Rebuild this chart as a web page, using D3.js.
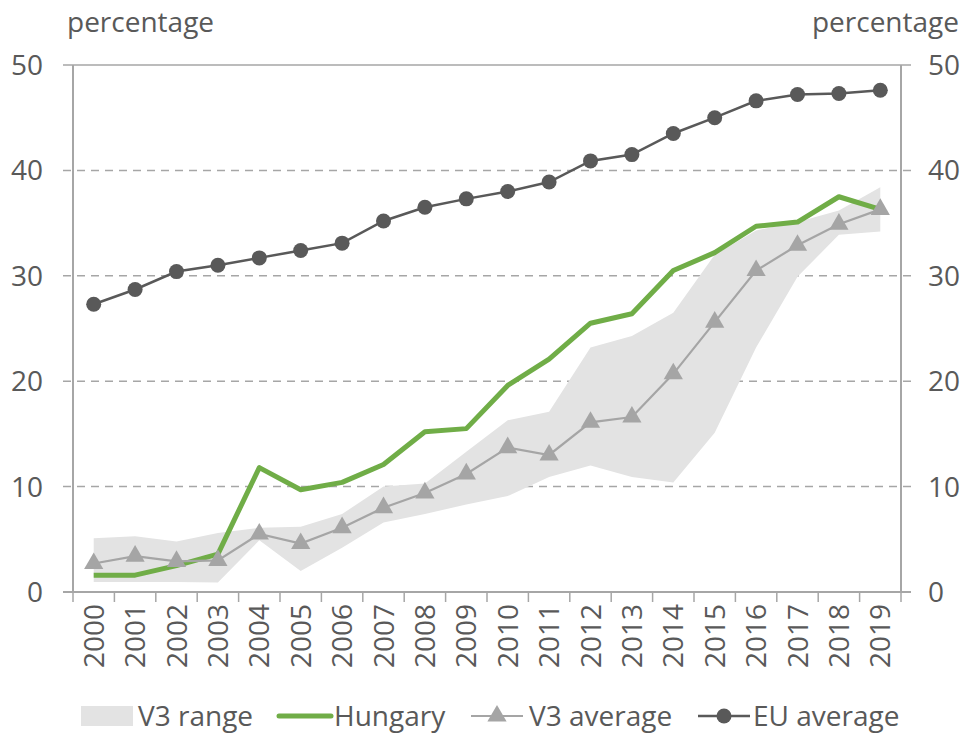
<!DOCTYPE html>
<html>
<head>
<meta charset="utf-8">
<script src="https://cdn.jsdelivr.net/npm/d3@7"></script>
<style>
  body { margin: 0; background: #fff; }
  text { font-family: "Open Sans", sans-serif; fill: #595959; }
</style>
</head>
<body>
<script>
const years = ["2000","2001","2002","2003","2004","2005","2006","2007","2008","2009",
               "2010","2011","2012","2013","2014","2015","2016","2017","2018","2019"];
const hungary = [1.6, 1.6, 2.5, 3.6, 11.8, 9.7, 10.4, 12.1, 15.2, 15.5,
                 19.6, 22.1, 25.5, 26.4, 30.5, 32.2, 34.7, 35.1, 37.5, 36.3];
const v3Avg = [2.7, 3.4, 2.9, 3.0, 5.5, 4.6, 6.1, 8.0, 9.4, 11.2,
               13.7, 13.0, 16.1, 16.6, 20.7, 25.6, 30.5, 32.9, 34.9, 36.3];
const v3Min = [0.95, 0.95, 0.95, 0.9, 4.9, 2.0, 4.2, 6.6, 7.4, 8.3,
               9.1, 10.9, 12.0, 10.9, 10.4, 15.1, 23.2, 29.9, 33.9, 34.2];
const v3Max = [5.1, 5.3, 4.8, 5.6, 6.1, 6.2, 7.4, 10.0, 10.3, 13.3,
               16.3, 17.1, 23.2, 24.3, 26.5, 32.0, 34.3, 35.1, 36.2, 38.4];
const euAvg = [27.3, 28.7, 30.4, 31.0, 31.7, 32.4, 33.1, 35.2, 36.5, 37.3,
               38.0, 38.9, 40.9, 41.5, 43.5, 45.0, 46.6, 47.2, 47.3, 47.6];
const yTicks = [0, 10, 20, 30, 40, 50];

const width = 966, height = 733;
const plotL = 73, plotR = 901, plotT = 65, plotB = 592;
const fs = 28;

const svg = d3.select("body").append("svg")
    .attr("width", width)
    .attr("height", height);

const x = d3.scaleBand().domain(years).range([plotL, plotR]).padding(0);
const y = d3.scaleLinear().domain([0, 50]).range([plotB, plotT]);
const cx = d => x(d) + x.bandwidth() / 2;

// grid
svg.append("g").selectAll("line")
    .data(yTicks.filter(t => t > 0))
    .enter().append("line")
    .attr("x1", plotL - 10).attr("x2", plotR + 10)
    .attr("y1", d => y(d)).attr("y2", d => y(d))
    .attr("stroke", "#a6a6a6")
    .attr("stroke-width", 1.5)
    .attr("stroke-dasharray", d => d === 50 ? null : "8,6");

// range area
const area = d3.area()
    .x((d, i) => cx(years[i]))
    .y0((d, i) => y(v3Min[i]))
    .y1((d, i) => y(v3Max[i]));
svg.append("path")
    .datum(years)
    .attr("d", area)
    .attr("fill", "#e3e3e3");

// axes
svg.append("line")
    .attr("x1", plotL).attr("x2", plotL).attr("y1", plotT).attr("y2", plotB)
    .attr("stroke", "#a6a6a6").attr("stroke-width", 2);
svg.append("line")
    .attr("x1", plotR).attr("x2", plotR).attr("y1", plotT).attr("y2", plotB)
    .attr("stroke", "#a6a6a6").attr("stroke-width", 2);
svg.append("line")
    .attr("x1", plotL - 10).attr("x2", plotR + 10).attr("y1", plotB).attr("y2", plotB)
    .attr("stroke", "#a6a6a6").attr("stroke-width", 2);

const bounds = years.map(d => x(d)).concat([plotR]);
svg.append("g").selectAll("line")
    .data(bounds)
    .enter().append("line")
    .attr("x1", d => d).attr("x2", d => d)
    .attr("y1", plotB).attr("y2", plotB + 10)
    .attr("stroke", "#a6a6a6").attr("stroke-width", 1.5);

// y labels
svg.append("g").selectAll("text")
    .data(yTicks)
    .enter().append("text")
    .attr("x", 43).attr("y", d => y(d))
    .attr("dy", "0.36em")
    .attr("text-anchor", "end")
    .attr("font-size", fs)
    .text(d => d);
svg.append("g").selectAll("text")
    .data(yTicks)
    .enter().append("text")
    .attr("x", 928).attr("y", d => y(d))
    .attr("dy", "0.36em")
    .attr("font-size", fs)
    .text(d => d);

svg.append("text").attr("x", 67).attr("y", 32).attr("font-size", fs).text("percentage");
svg.append("text").attr("x", 959).attr("y", 32).attr("text-anchor", "end").attr("font-size", fs).text("percentage");

// x labels
svg.append("g").selectAll("text")
    .data(years)
    .enter().append("text")
    .attr("transform", d => `translate(${cx(d)},${plotB + 12}) rotate(-90)`)
    .attr("text-anchor", "end")
    .attr("dy", "0.36em")
    .attr("font-size", fs)
    .text(d => d);

const line = d3.line();

// Hungary
svg.append("path")
    .datum(years.map((d, i) => [cx(d), y(hungary[i])]))
    .attr("d", line)
    .attr("fill", "none")
    .attr("stroke", "#70ad47")
    .attr("stroke-width", 5)
    .attr("stroke-linejoin", "round");

// V3 average
svg.append("path")
    .datum(years.map((d, i) => [cx(d), y(v3Avg[i])]))
    .attr("d", line)
    .attr("fill", "none")
    .attr("stroke", "#a5a5a5")
    .attr("stroke-width", 2.2);
const tri = d3.symbol().type(d3.symbolTriangle).size(160);
svg.append("g").selectAll("path")
    .data(years)
    .enter().append("path")
    .attr("d", tri)
    .attr("transform", (d, i) => `translate(${cx(d)},${y(v3Avg[i])})`)
    .attr("fill", "#a5a5a5");

// EU average
svg.append("path")
    .datum(years.map((d, i) => [cx(d), y(euAvg[i])]))
    .attr("d", line)
    .attr("fill", "none")
    .attr("stroke", "#595959")
    .attr("stroke-width", 2.5);
svg.append("g").selectAll("circle")
    .data(years)
    .enter().append("circle")
    .attr("cx", d => cx(d))
    .attr("cy", (d, i) => y(euAvg[i]))
    .attr("r", 7.5)
    .attr("fill", "#595959");

// legend
const ly = 716;
svg.append("rect").attr("x", 81).attr("y", ly - 10).attr("width", 52).attr("height", 20).attr("fill", "#e3e3e3");
svg.append("text").attr("x", 138).attr("y", ly).attr("dy", "0.36em").attr("font-size", fs).text("V3 range");

svg.append("line").attr("x1", 279).attr("x2", 331).attr("y1", ly).attr("y2", ly)
    .attr("stroke", "#70ad47").attr("stroke-width", 5).attr("stroke-linecap", "round");
svg.append("text").attr("x", 334).attr("y", ly).attr("dy", "0.36em").attr("font-size", fs).text("Hungary");

svg.append("line").attr("x1", 471).attr("x2", 523).attr("y1", ly).attr("y2", ly)
    .attr("stroke", "#a5a5a5").attr("stroke-width", 2.2);
svg.append("path").attr("d", tri).attr("transform", `translate(497,${ly})`).attr("fill", "#a5a5a5");
svg.append("text").attr("x", 529).attr("y", ly).attr("dy", "0.36em").attr("font-size", fs).text("V3 average");

svg.append("line").attr("x1", 698).attr("x2", 750).attr("y1", ly).attr("y2", ly)
    .attr("stroke", "#595959").attr("stroke-width", 2.5);
svg.append("circle").attr("cx", 724).attr("cy", ly).attr("r", 7.5).attr("fill", "#595959");
svg.append("text").attr("x", 753).attr("y", ly).attr("dy", "0.36em").attr("font-size", fs).text("EU average");
</script>
</body>
</html>
